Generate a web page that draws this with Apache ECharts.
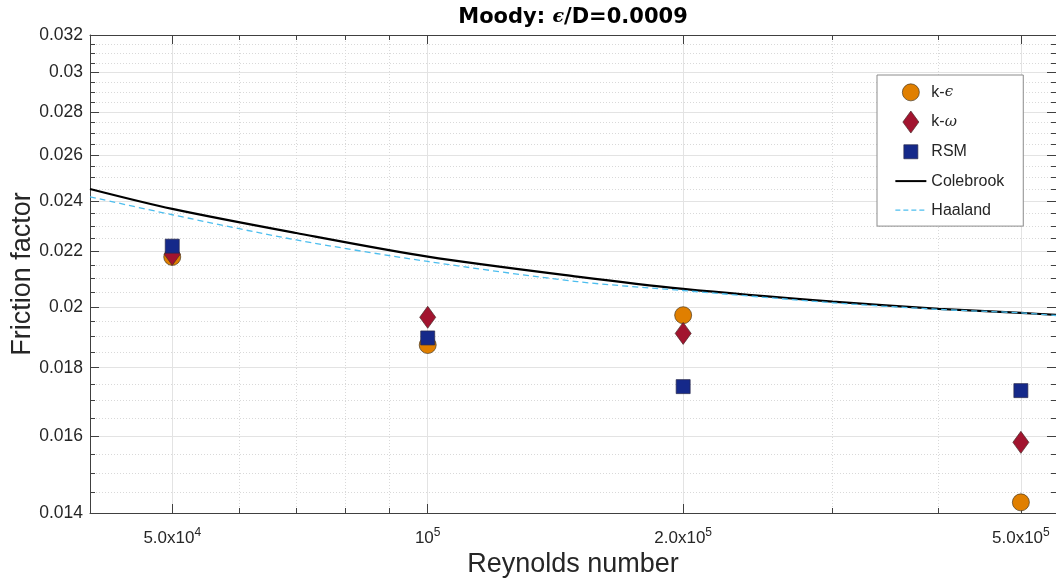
<!DOCTYPE html>
<html>
<head>
<meta charset="utf-8">
<style>
  html, body { margin: 0; padding: 0; background: #fff; }
  #chart { width: 1056px; height: 586px; }
</style>
<script src="https://cdn.jsdelivr.net/npm/echarts@6/dist/echarts.min.js"></script>
</head>
<body>
<div id="chart"></div>
<script>
var reynolds = [5e4, 1e5, 2e5, 5e5];
var kEpsilon = [0.0218, 0.01872, 0.01971, 0.01426];
var kOmega = [0.0219, 0.01964, 0.0191, 0.01582];
var rsm = [0.02221, 0.01895, 0.01742, 0.0173];

// reference curves
var curveRe = [4e4, 5e4, 7e4, 1e5, 1.5e5, 2e5, 3e5, 4e5, 5e5, 5.5e5];
var colebrook = [0.02452, 0.02369, 0.02272, 0.02181, 0.02107, 0.02063, 0.02018, 0.01993, 0.01979, 0.01972];
var haaland = [0.02419, 0.02345, 0.02245, 0.02163, 0.02089, 0.02057, 0.02014, 0.01991, 0.01979, 0.0197];

// axis ticks
var xMajor = [5e4, 1e5, 2e5, 5e5];
var xMajorLabels = [['5.0x10', '4'], ['10', '5'], ['2.0x10', '5'], ['5.0x10', '5']];
var xMinor = [6e4, 7e4, 8e4, 9e4, 3e5, 4e5];
var yMajor = [0.014, 0.016, 0.018, 0.02, 0.022, 0.024, 0.026, 0.028, 0.03, 0.032];
var yMajorLabels = ['0.014', '0.016', '0.018', '0.02', '0.022', '0.024', '0.026', '0.028', '0.03', '0.032'];
var yMinor = [0.0145, 0.015, 0.0155, 0.0165, 0.017, 0.0175, 0.0185, 0.019, 0.0195,
  0.0205, 0.021, 0.0215, 0.0225, 0.023, 0.0235, 0.0245, 0.025, 0.0255,
  0.0265, 0.027, 0.0275, 0.0285, 0.029, 0.0295, 0.0305, 0.031, 0.0315];

var FONT = 'Liberation Sans';
var axisColor = '#404040';
var textColor = '#262626';

// legend icons (padded so every icon keeps its own size inside the 31x22 box)
var ICON_CIRCLE = 'path://M0,0M31,22M15.5,2.5A8.5,8.5,0,1,1,15.49,2.5Z';
var ICON_DIAMOND = 'path://M0,0M31,22M15.5,0L23.5,11L15.5,22L7.5,11Z';
var ICON_SQUARE = 'path://M0,0M31,22M8.5,4H22.5V18H8.5Z';
var ICON_LINE = 'path://M0,0M31,22M0,10H31V12H0Z';
var ICON_DASH = 'path://M0,0M31,22M0,10.4H5V11.6H0ZM8,10.4H13V11.6H8ZM16,10.4H21V11.6H16ZM24,10.4H29V11.6H24Z';

function pair(a, b) {
  return a.map(function (v, i) { return [v, b[i]]; });
}

function xAxisDef(pos, ticks, len, opts) {
  return Object.assign({
    type: 'log', min: 4e4, max: 5.5e5, position: pos,
    axisLine: { show: true, lineStyle: { color: axisColor, width: 1 } },
    axisTick: { show: true, inside: true, length: len, customValues: ticks, lineStyle: { color: axisColor } },
    axisLabel: { show: false },
    splitLine: { show: false },
    minorTick: { show: false }
  }, opts || {});
}
function yAxisDef(pos, ticks, len, opts) {
  return Object.assign({
    type: 'log', min: 0.014, max: 0.032, position: pos,
    axisLine: { show: true, lineStyle: { color: axisColor, width: 1 } },
    axisTick: { show: true, inside: true, length: len, customValues: ticks, lineStyle: { color: axisColor } },
    axisLabel: { show: false },
    splitLine: { show: false },
    minorTick: { show: false }
  }, opts || {});
}

var chart = echarts.init(document.getElementById('chart'));
chart.setOption({
  backgroundColor: '#fff',
  animation: false,
  textStyle: { fontFamily: FONT },
  title: {
    text: '{b|Moody: }{e|ϵ}{b|/D=0.0009}',
    left: 568, top: 2, textAlign: 'center',
    textStyle: {
      rich: {
        b: { fontFamily: 'DejaVu Sans', fontWeight: 'bold', fontSize: 21, color: '#000' },
        e: { fontFamily: 'DejaVu Serif', fontStyle: 'italic', fontSize: 19, color: '#000' }
      }
    }
  },
  grid: { left: 90, right: 0, top: 35, bottom: 73, containLabel: false, outerBoundsMode: 'none' },
  legend: {
    orient: 'vertical', left: 877, top: 75,
    padding: [6, 19, 5, 18],
    itemWidth: 31, itemHeight: 22, itemGap: 7,
    backgroundColor: '#fff', borderColor: '#8c8c8c', borderWidth: 1,
    data: [
      { name: 'k-ϵ', icon: ICON_CIRCLE, itemStyle: { borderWidth: 0.7, borderColor: '#4a3a20' } },
      { name: 'k-ω', icon: ICON_DIAMOND, itemStyle: { borderWidth: 0.7, borderColor: '#4a2a2a' } },
      { name: 'RSM', icon: ICON_SQUARE, itemStyle: { borderWidth: 0.7, borderColor: '#2a2a4a' } },
      { name: 'Colebrook', icon: ICON_LINE, itemStyle: { borderWidth: 0 } },
      { name: 'Haaland', icon: ICON_DASH, itemStyle: { borderWidth: 0 } }
    ],
    formatter: function (name) { return name.replace(/([ϵω])/, '{g|$1}'); },
    textStyle: {
      fontFamily: FONT, fontSize: 16, color: textColor,
      rich: { g: { fontFamily: 'DejaVu Serif', fontStyle: 'italic', fontSize: 15, color: textColor } }
    }
  },
  xAxis: [
    xAxisDef('bottom', xMajor, 9, {
      name: 'Reynolds number', nameLocation: 'middle', nameGap: 38, nameMoveOverlap: false,
      nameTextStyle: { fontFamily: FONT, fontSize: 27, color: textColor },
      axisLabel: {
        show: true, customValues: xMajor, margin: 14,
        formatter: function (v) {
          var i = xMajor.findIndex(function (t) { return Math.abs(t - v) / t < 1e-6; });
          if (i < 0) return '';
          return '{b|' + xMajorLabels[i][0] + '}{s|' + xMajorLabels[i][1] + '}';
        },
        rich: {
          b: { fontFamily: FONT, fontSize: 17, color: textColor, lineHeight: 20, verticalAlign: 'bottom' },
          s: { fontFamily: FONT, fontSize: 12, color: textColor, lineHeight: 20, verticalAlign: 'top', padding: [0, 0, 10, 0] }
        }
      },
      splitLine: { show: true, lineStyle: { color: '#e3e3e3', width: 1 } }
    }),
    xAxisDef('bottom', xMinor, 5, {
      axisLine: { show: false },
      splitLine: { show: true, lineStyle: { color: '#d9d9d9', width: 1, type: [1, 2] } }
    }),
    xAxisDef('top', xMajor, 9),
    xAxisDef('top', xMinor, 5, { axisLine: { show: false } })
  ],
  yAxis: [
    yAxisDef('left', yMajor, 9, {
      name: 'Friction factor', nameLocation: 'middle', nameGap: 54, nameRotate: 90, nameMoveOverlap: false,
      nameTextStyle: { fontFamily: FONT, fontSize: 27, color: textColor },
      axisLabel: {
        show: true, customValues: yMajor, margin: 7,
        fontFamily: FONT, fontSize: 17.5, color: textColor,
        formatter: function (v) {
          var i = yMajor.findIndex(function (t) { return Math.abs(t - v) < 1e-7; });
          return i < 0 ? '' : yMajorLabels[i];
        }
      },
      splitLine: { show: true, lineStyle: { color: '#e3e3e3', width: 1 } }
    }),
    yAxisDef('left', yMinor, 5, {
      axisLine: { show: false },
      splitLine: { show: true, lineStyle: { color: '#d9d9d9', width: 1, type: [1, 2] } }
    }),
    yAxisDef('right', yMajor, 9),
    yAxisDef('right', yMinor, 5, { axisLine: { show: false } })
  ],
  series: [
    {
      name: 'k-ϵ', type: 'scatter', symbol: 'circle', symbolSize: 17,
      itemStyle: { color: '#e07f00', borderColor: '#4a3a20', borderWidth: 0.7, opacity: 1 },
      data: pair(reynolds, kEpsilon)
    },
    {
      name: 'k-ω', type: 'scatter', symbol: 'diamond', symbolSize: [16, 22],
      itemStyle: { color: '#a2142f', borderColor: '#4a2a2a', borderWidth: 0.7, opacity: 1 },
      data: pair(reynolds, kOmega)
    },
    {
      name: 'RSM', type: 'scatter', symbol: 'rect', symbolSize: 14,
      itemStyle: { color: '#15298a', borderColor: '#2a2a4a', borderWidth: 0.7, opacity: 1 },
      data: pair(reynolds, rsm)
    },
    {
      name: 'Colebrook', type: 'line', showSymbol: false, symbol: 'none', smooth: 0.3,
      lineStyle: { color: '#000', width: 2.2 },
      itemStyle: { color: '#000' },
      data: pair(curveRe, colebrook)
    },
    {
      name: 'Haaland', type: 'line', showSymbol: false, symbol: 'none', smooth: 0.3,
      lineStyle: { color: '#4dbeee', width: 1.3, type: [6, 4] },
      itemStyle: { color: '#4dbeee' },
      data: pair(curveRe, haaland)
    }
  ]
});
</script>
</body>
</html>
